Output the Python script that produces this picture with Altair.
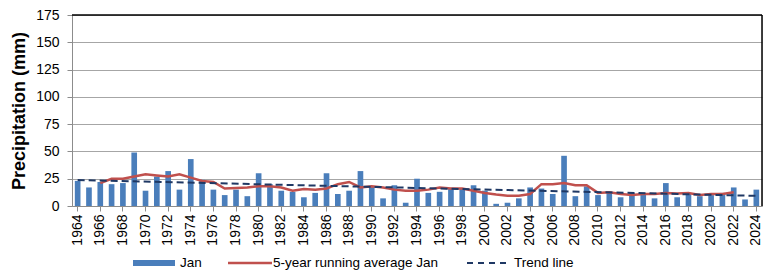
import altair as alt
import pandas as pd

years = list(range(1964, 2025))
jan = [23, 17, 22, 20, 21, 49, 14, 27, 32, 15,
       43, 24, 15, 10, 15, 9, 30, 20, 14, 13,
       8, 12, 30, 11, 14, 32, 18, 7, 19, 3,
       25, 12, 13, 16, 16, 19, 14, 2, 3, 7,
       17, 16, 11, 46, 9, 18, 10, 13, 8, 12,
       11, 7, 21, 8, 11, 9, 10, 12, 17, 6, 15]

avg_years = list(range(1966, 2023))
avg_vals = [21, 25, 25, 27, 29, 28, 27, 29, 26, 23,
            22, 16, 16.5, 17, 18, 18, 17, 14, 15.5, 15,
            16, 20, 22, 17, 18, 17, 15, 14, 14, 15,
            17, 16, 16, 14, 12, 10.5, 9.5, 9.5, 11, 20,
            20, 21, 19, 19, 12, 12.5, 11, 10, 11, 11,
            12, 11.5, 12, 10, 11, 11, 12.5]

trend_years = [1964, 2024]
trend_vals = [23.8, 9.3]

label_years = list(range(1964, 2025, 2))

W, H = 690, 191
FONT = "Liberation Sans"

bars_df = pd.DataFrame({"year": years, "value": jan})
avg_df = pd.DataFrame({"year": avg_years, "value": avg_vals})
trend_df = pd.DataFrame({"year": trend_years, "value": trend_vals})

xenc = alt.X(
    "year:O",
    scale=alt.Scale(domain=years, paddingInner=0.5, paddingOuter=0.25),
    axis=alt.Axis(
        values=label_years, labelAngle=-90, title=None,
        labelFont=FONT, labelFontSize=14, labelColor="#000",
        domainColor="#8c8c8c", tickColor="#8c8c8c", tickSize=5,
        labelPadding=3, grid=False,
    ),
)
yenc = alt.Y(
    "value:Q",
    scale=alt.Scale(domain=[0, 175], nice=False),
    axis=alt.Axis(
        values=list(range(0, 176, 25)), title="Precipitation (mm)",
        titleFont=FONT, titleFontSize=18, titleFontWeight="bold", titleColor="#000",
        titlePadding=7,
        labelFont=FONT, labelFontSize=14, labelColor="#000", labelPadding=8,
        domainColor="#8c8c8c", tickColor="#8c8c8c", tickSize=5,
        gridColor="#a6a6a6", gridWidth=1,
    ),
)

bars = alt.Chart(bars_df).mark_bar(color="#4a7ebb").encode(x=xenc, y=yenc)
avg_line = alt.Chart(avg_df).mark_line(color="#c0504d", strokeWidth=2.5).encode(x=xenc, y=yenc)
trend_line = alt.Chart(trend_df).mark_line(
    color="#1f3864", strokeWidth=2, strokeDash=[7, 4]
).encode(x=xenc, y=yenc)

one = alt.Data(values=[{}])
top_rule = alt.Chart(one).mark_rule(color="#000", strokeWidth=1.5).encode(
    x=alt.value(0), x2=alt.value(W), y=alt.value(0))
right_rule = alt.Chart(one).mark_rule(color="#000", strokeWidth=1.5).encode(
    x=alt.value(W), y=alt.value(0), y2=alt.value(H))

LY = 248
leg_bar = alt.Chart(one).mark_rule(color="#4a7ebb", strokeWidth=6).encode(
    x=alt.value(61), x2=alt.value(103), y=alt.value(LY))
leg_avg = alt.Chart(one).mark_rule(color="#c0504d", strokeWidth=2.5).encode(
    x=alt.value(156), x2=alt.value(200), y=alt.value(LY))
leg_trend = alt.Chart(one).mark_rule(color="#1f3864", strokeWidth=2, strokeDash=[6, 5]).encode(
    x=alt.value(395), x2=alt.value(436), y=alt.value(LY))


def leg_text(txt, x):
    return alt.Chart(one).mark_text(
        text=txt, align="left", baseline="middle", font=FONT, fontSize=13.5, color="#000"
    ).encode(x=alt.value(x), y=alt.value(LY))


chart = alt.layer(
    bars, avg_line, trend_line, top_rule, right_rule,
    leg_bar, leg_avg, leg_trend,
    leg_text("Jan", 108), leg_text("5-year running average Jan", 201), leg_text("Trend line", 442),
).properties(
    width=W, height=H,
    autosize=alt.AutoSizeParams(type="none"),
    padding={"left": 64, "top": 7, "right": 1, "bottom": 68},
).configure_view(stroke=None).configure(background="white")

chart.save("out.html", embed_options={"renderer": "svg", "actions": False})
